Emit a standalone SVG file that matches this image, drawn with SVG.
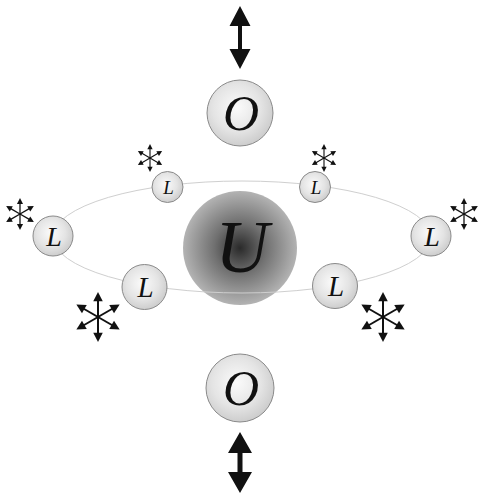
<svg xmlns="http://www.w3.org/2000/svg" xmlns:xlink="http://www.w3.org/1999/xlink" width="478" height="494" viewBox="0 0 478 494">
<style>
.node{fill:url(#ng);stroke:#8a8a8a;stroke-width:1}
.lbl{font-family:"Liberation Serif","Times New Roman",serif;font-style:italic;text-anchor:middle;fill:#111}
.orbit{fill:none;stroke:#cfcfcf;stroke-width:1}
.arr{fill:#111}
</style>
<defs>
<radialGradient id="ng" cx="0.45" cy="0.42" r="0.6">
<stop offset="0" stop-color="#fbfbfb"/>
<stop offset="0.6" stop-color="#e4e4e4"/>
<stop offset="1" stop-color="#cbcbcb"/>
</radialGradient>
<radialGradient id="ug" cx="0.5" cy="0.5" r="0.5">
<stop offset="0" stop-color="#2a2a2a"/>
<stop offset="0.45" stop-color="#707070"/>
<stop offset="1" stop-color="#b3b3b3"/>
</radialGradient>
<g id="arm">
<line x1="0" y1="0" x2="0" y2="-7" stroke="#111" stroke-width="0.8"/>
<path d="M0,-10 L-1.9,-6.3 L1.9,-6.3Z" fill="#111"/>
</g>
<g id="star">
<use xlink:href="#arm"/>
<use xlink:href="#arm" transform="rotate(60)"/>
<use xlink:href="#arm" transform="rotate(120)"/>
<use xlink:href="#arm" transform="rotate(180)"/>
<use xlink:href="#arm" transform="rotate(240)"/>
<use xlink:href="#arm" transform="rotate(300)"/>
</g>
</defs>
<rect width="478" height="494" fill="#fff"/>
<g id="U">
<circle cx="240" cy="248" r="57" fill="url(#ug)"/>
<text class="lbl" x="242" y="272" font-size="74">U</text>
</g>
<g id="connectors">
<ellipse class="orbit" cx="242" cy="237" rx="189" ry="56"/>
<g id="arrow-top">
<rect class="arr" x="238" y="24" width="4" height="27"/>
<path class="arr" d="M240,6 L229.5,26 L250.5,26Z M240,69 L229.5,49 L250.5,49Z"/>
</g>
<g id="arrow-bottom">
<rect class="arr" x="237.5" y="451" width="5" height="23"/>
<path class="arr" d="M240,432 L228,453 L252,453Z M240,493 L228,472 L252,472Z"/>
</g>
<use xlink:href="#star" transform="translate(20,214) scale(1.6)"/>
<use xlink:href="#star" transform="translate(464,214) scale(1.6)"/>
<use xlink:href="#star" transform="translate(150,158) scale(1.4)"/>
<use xlink:href="#star" transform="translate(324,158) scale(1.4)"/>
<use xlink:href="#star" transform="translate(98,317) scale(2.5)"/>
<use xlink:href="#star" transform="translate(383,317) scale(2.5)"/>
</g>
<g id="O-top">
<circle class="node" cx="240" cy="113" r="33"/>
<text class="lbl" x="241" y="130" font-size="50">O</text>
</g>
<g id="O-bottom">
<circle class="node" cx="240" cy="388" r="34"/>
<text class="lbl" x="241" y="405" font-size="50">O</text>
</g>
<g id="L-left">
<circle class="node" cx="53" cy="236" r="20"/>
<text class="lbl" x="54" y="246" font-size="28">L</text>
</g>
<g id="L-right">
<circle class="node" cx="431" cy="236" r="20"/>
<text class="lbl" x="432" y="246" font-size="28">L</text>
</g>
<g id="L-back-left">
<circle class="node" cx="167.5" cy="187" r="15.5"/>
<text class="lbl" x="168.5" y="194" font-size="19">L</text>
</g>
<g id="L-back-right">
<circle class="node" cx="315" cy="187" r="15.5"/>
<text class="lbl" x="316" y="194" font-size="19">L</text>
</g>
<g id="L-front-left">
<circle class="node" cx="144.5" cy="287" r="22.5"/>
<text class="lbl" x="145.5" y="297" font-size="29">L</text>
</g>
<g id="L-front-right">
<circle class="node" cx="335" cy="286" r="22.5"/>
<text class="lbl" x="336" y="296" font-size="29">L</text>
</g>
</svg>
